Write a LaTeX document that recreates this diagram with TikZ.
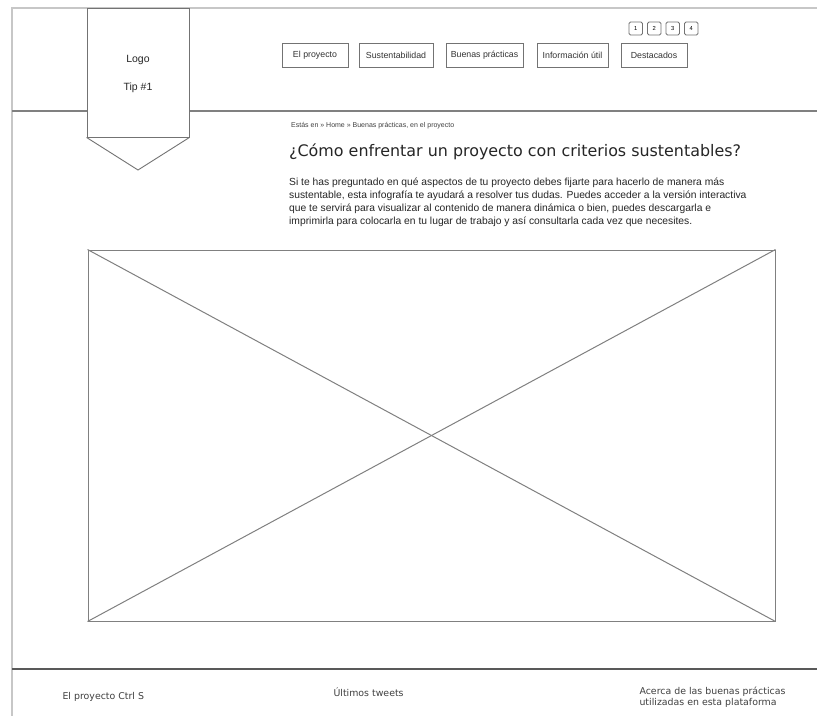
\documentclass[tikz,border=0pt]{standalone}
\usepackage{fontspec}
\setmainfont{Liberation Sans}
\newfontfamily\dejavu{DejaVu Sans}

\begin{document}
\begin{tikzpicture}[x=1pt,y=-1pt,
  pageframe/.style={draw=black!22, line width=2pt},
  headrule/.style={draw=black!50, line width=1.2pt},
  footrule/.style={draw=black!65, line width=1.6pt},
  logobox/.style={draw=black!55, line width=0.9pt, fill=white, inner sep=0pt},
  navbtn/.style={draw=black!55, line width=0.9pt, fill=white, inner sep=0pt,
    minimum height=24pt, text=black!80, font=\fontsize{8.8}{10}\selectfont},
  pagebtn/.style={draw=black!55, line width=0.8pt, rounded corners=1.5pt, inner sep=0pt,
    minimum width=13.5pt, minimum height=13pt, font=\fontsize{5.8}{6}\selectfont},
  placeholder/.style={draw=black!50, line width=1pt, inner sep=0pt},
  cross/.style={draw=black!50, line width=1pt},
  foottext/.style={font=\dejavu\fontsize{9.4}{11}\selectfont, text=black!75, anchor=west, align=left}
]
\useasboundingbox (0,0) rectangle (817,716);
\fill[white] (0,0) rectangle (817,716);

% page frame: top and left edges
\coordinate (tl) at (12,8);
\coordinate (tr) at (817,8);
\coordinate (bl) at (12,716);
\draw[pageframe] (tr) -- (tl) -- (bl);

% header rule
\coordinate (hl) at (12,111);
\coordinate (hr) at (817,111);
\draw[headrule] (hl) -- (hr);

% logo banner
\node[logobox, minimum width=102pt, minimum height=129pt] (logo) at (138,72.5) {};
\coordinate (tip) at (138,170);
\draw[draw=black!55, line width=0.9pt] (logo.south west) -- (tip) -- (logo.south east);
\node[font=\fontsize{10.5}{12}\selectfont, text=black!85] (logotxt) at (138,60) {Logo};
\node[font=\fontsize{10.5}{12}\selectfont, text=black!85] (tiptxt) at (138,88) {Tip \#1};

% navigation buttons
\node[navbtn, minimum width=66pt] (nav1) at (315,55) {El proyecto};
\node[navbtn, minimum width=74pt] (nav2) at (396,55) {Sustentabilidad};
\node[navbtn, minimum width=77pt] (nav3) at (484.5,55) {Buenas prácticas};
\node[navbtn, minimum width=71pt] (nav4) at (572.5,55) {Información útil};
\node[navbtn, minimum width=66pt] (nav5) at (654,55) {Destacados};

% pager
\node[pagebtn] (p1) at (635.75,28.5) {1};
\node[pagebtn] (p2) at (654.25,28.5) {2};
\node[pagebtn] (p3) at (672.75,28.5) {3};
\node[pagebtn] (p4) at (691.25,28.5) {4};

% breadcrumb, title and intro
\node[anchor=west, font=\fontsize{7}{8}\selectfont, text=black!75, inner sep=0pt] (crumb) at (291,126)
  {Estás en » Home » Buenas prácticas, en el proyecto};
\node[anchor=west, font=\dejavu\fontsize{15.9}{18}\selectfont, text=black!85, inner sep=0pt] (title) at (289,152)
  {¿Cómo enfrentar un proyecto con criterios sustentables?};
\node[anchor=north west, align=left, inner sep=0pt, text=black!85,
  font=\fontsize{10.3}{13}\selectfont] (intro) at (289,178)
  {Si te has preguntado en qué aspectos de tu proyecto debes fijarte para hacerlo de manera más\\
   sustentable, esta infografía te ayudará a resolver tus dudas. Puedes acceder a la versión interactiva\\
   que te servirá para visualizar al contenido de manera dinámica o bien, puedes descargarla e\\
   imprimirla para colocarla en tu lugar de trabajo y así consultarla cada vez que necesites.};

% image placeholder
\node[placeholder, minimum width=687pt, minimum height=371pt] (img) at (431.5,435.5) {};
\draw[cross] (img.north west) -- (img.south east);
\draw[cross] (img.north east) -- (img.south west);

% footer
\coordinate (fl) at (12,669);
\coordinate (fr) at (817,669);
\draw[footrule] (fl) -- (fr);
\node[foottext] (f1) at (59,697) {El proyecto Ctrl S};
\node[foottext] (f2) at (330,692) {Últimos tweets};
\node[foottext, font=\dejavu\fontsize{9.4}{11}\selectfont] (f3) at (636,697)
  {Acerca de las buenas prácticas\\utilizadas en esta plataforma};
\end{tikzpicture}
\end{document}
